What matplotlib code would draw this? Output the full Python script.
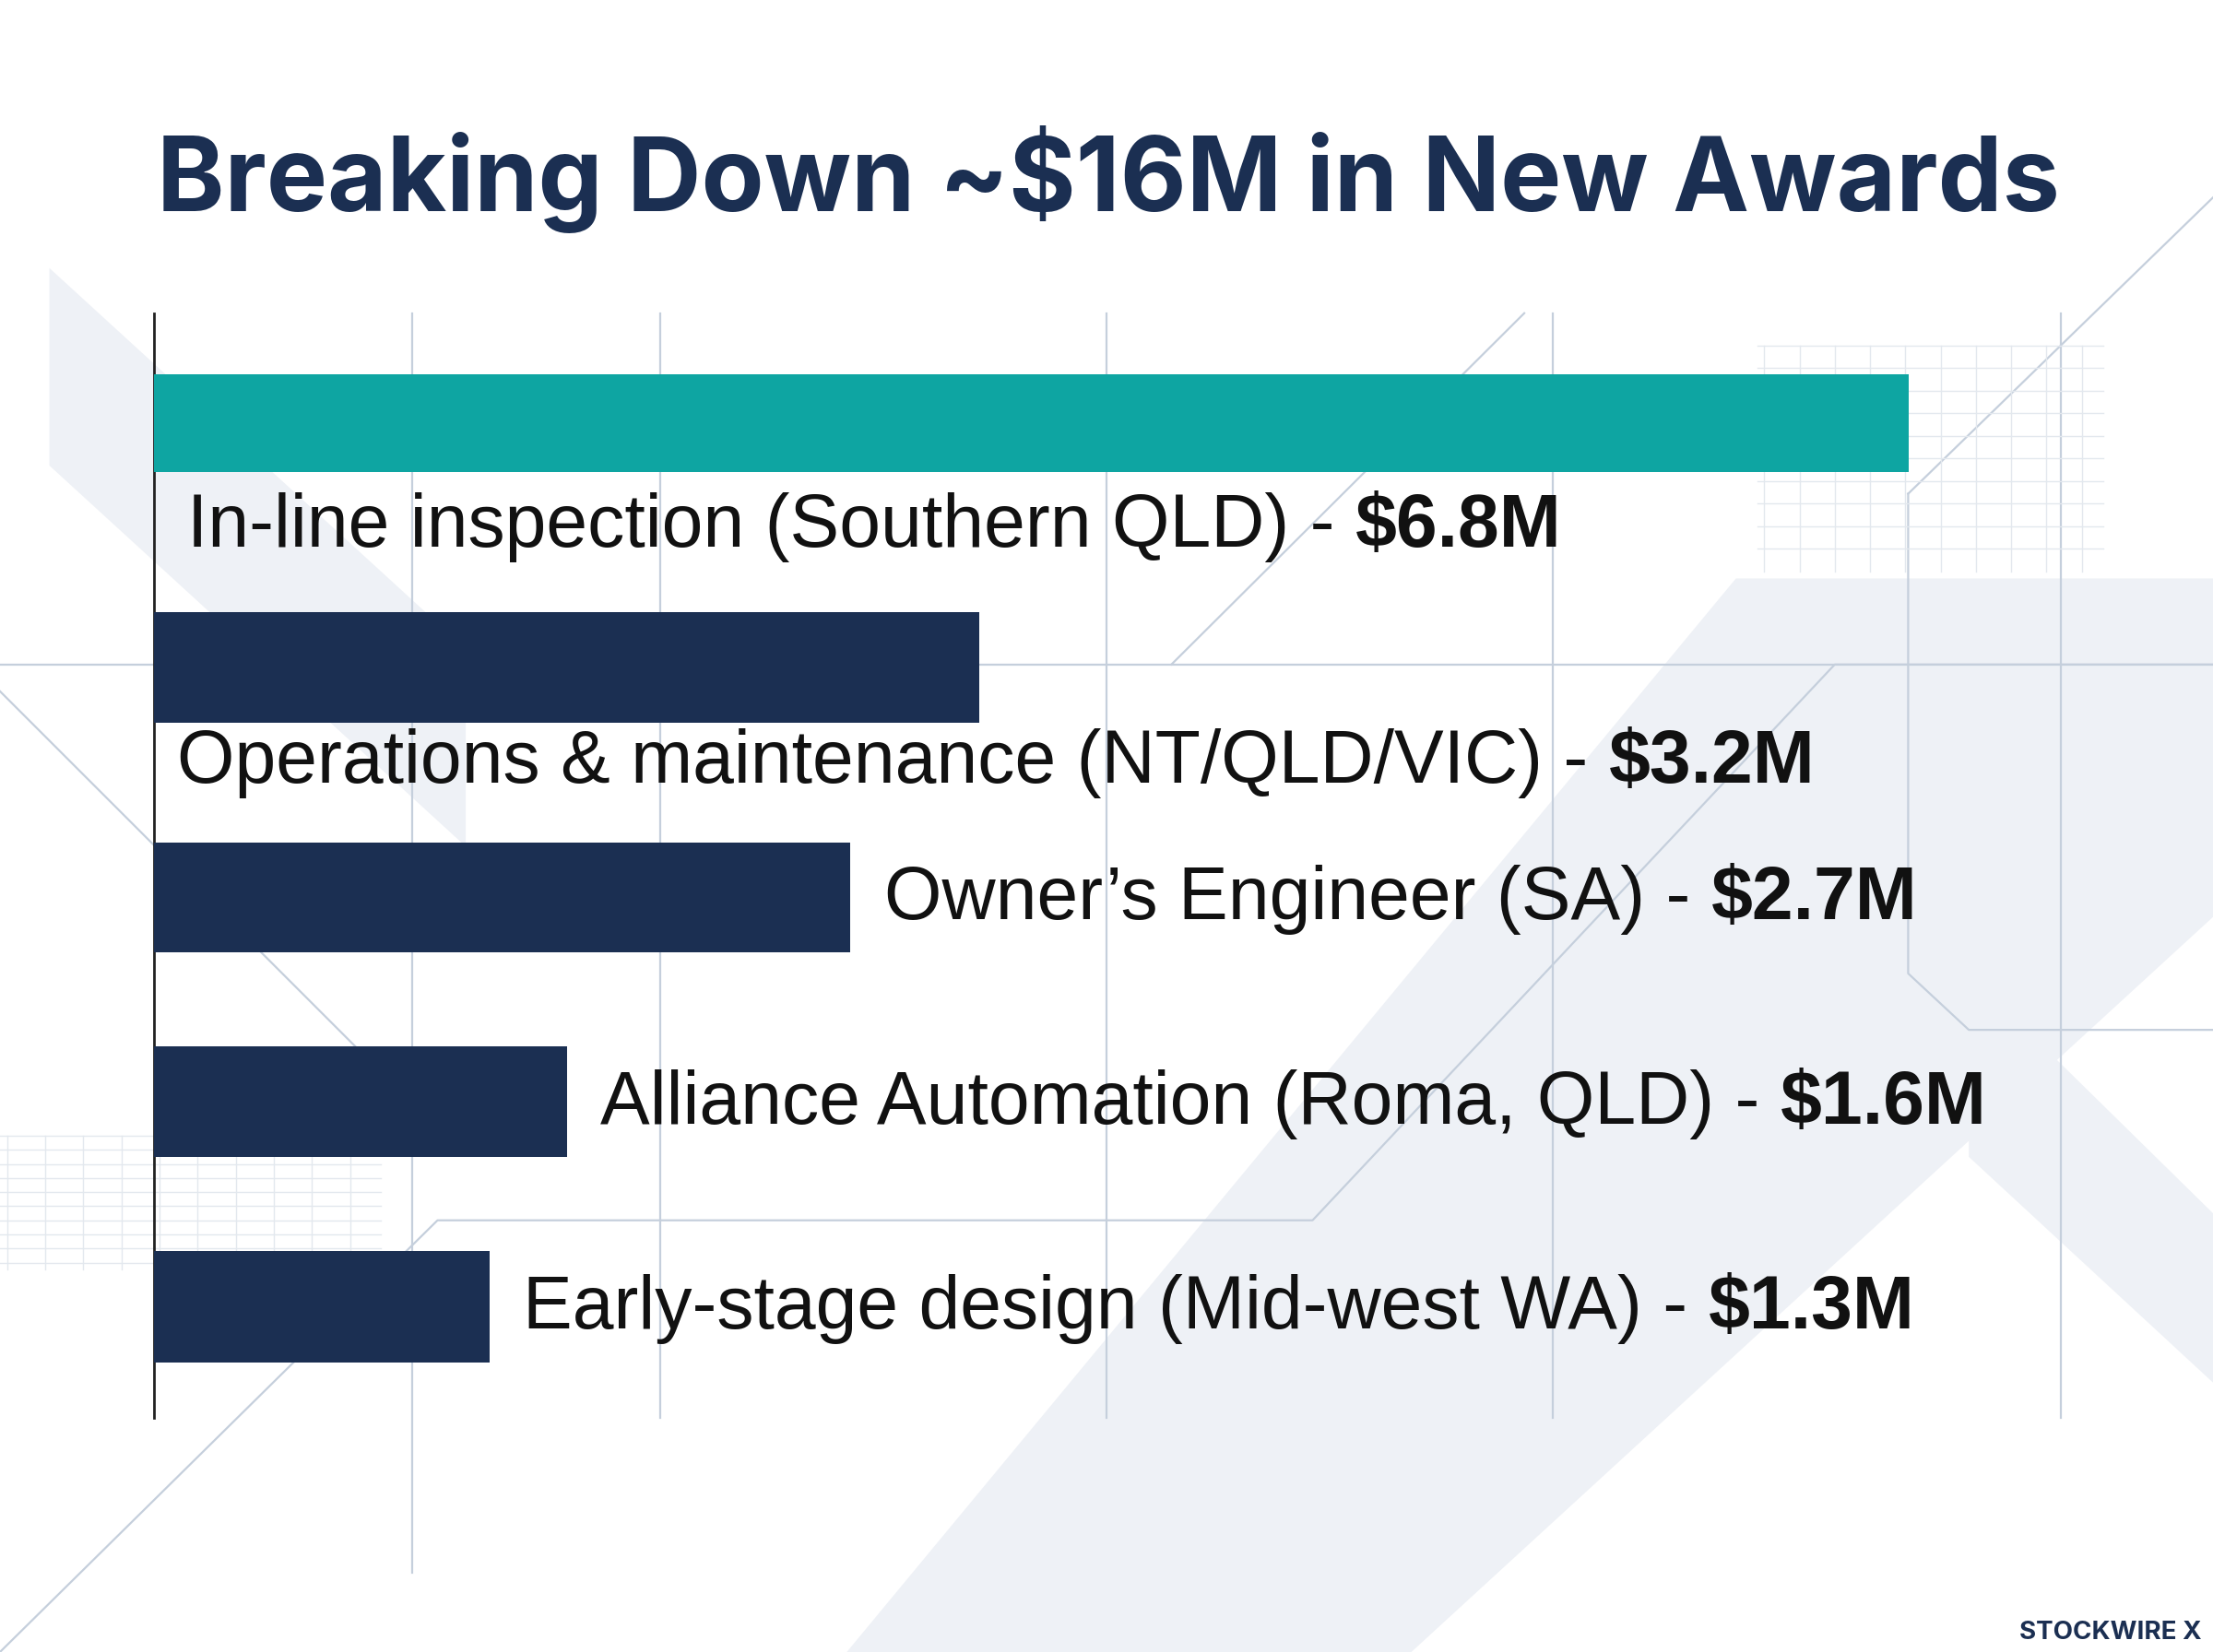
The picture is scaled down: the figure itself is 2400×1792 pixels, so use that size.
import matplotlib
matplotlib.use("Agg")
import matplotlib.pyplot as plt
from matplotlib.patches import Polygon

labels = ["In-line inspection (Southern QLD) - ", "Operations & maintenance (NT/QLD/VIC) - ",
          "Owner\u2019s Engineer (SA) - ", "Alliance Automation (Roma, QLD) - ",
          "Early-stage design (Mid-west WA) - "]
value_text = ["$6.8M", "$3.2M", "$2.7M", "$1.6M", "$1.3M"]
values = [6.8, 3.2, 2.7, 1.6, 1.3]
colors = ["#0ea5a2", "#1b2f52", "#1b2f52", "#1b2f52", "#1b2f52"]

W, H = 1568, 1171
fig = plt.figure(figsize=(12, 8.96), dpi=200)
fig.patch.set_facecolor("white")

bg = fig.add_axes([0, 0, 1, 1], zorder=0)
bg.set_xlim(0, W); bg.set_ylim(H, 0); bg.axis("off")
for poly in [[(35, 190), (35, 330), (330, 600), (330, 460)],
             [(600, 1171), (1230, 410), (1568, 410), (1568, 650), (1000, 1171)],
             [(1395, 690), (1568, 860), (1568, 980), (1395, 820)]]:
    bg.add_patch(Polygon(poly, closed=True, fc="#eef1f6", ec="none"))
lc = "#c5cfdc"
for x in [292, 468, 784, 1100, 1460]:
    bg.plot([x, x], [222, 1005 if x != 292 else 1115], color=lc, lw=0.8)
bg.plot([0, 1568], [471, 471], color=lc, lw=0.8)
bg.plot([830, 1080, 1080], [471, 222, 222], color=lc, lw=0.8)
bg.plot([1352, 1568, 1568], [350, 140, 140], color=lc, lw=0.8)
bg.plot([1352, 1352, 1395, 1568], [350, 690, 730, 730], color=lc, lw=0.8)
bg.plot([0, 310, 930, 1300, 1568], [1171, 865, 865, 471, 471], color=lc, lw=0.8)
bg.plot([0, 290], [490, 780], color=lc, lw=0.8)
for i in range(10):
    bg.plot([0, 270], [805 + i * 10, 805 + i * 10], color="#e3e8ee", lw=0.5)
    bg.plot([5 + i * 27, 5 + i * 27], [805, 900], color="#e3e8ee", lw=0.5)
    bg.plot([1245, 1490], [245 + i * 16, 245 + i * 16], color="#e3e8ee", lw=0.5)
    bg.plot([1250 + i * 25, 1250 + i * 25], [245, 405], color="#e3e8ee", lw=0.5)

ax = fig.add_axes([109 / W, 1 - 1005 / H, 1 - 109 / W, (1005 - 222) / H], zorder=2)
ax.patch.set_alpha(0)
ax.set_xlim(0, 7.98)
ax.set_ylim(1005, 222)
ypos = [300, 473, 636, 781, 926]
heights = [69, 78, 78, 78, 79]
ax.barh(ypos, values, height=heights, color=colors, zorder=3)
for s in ["top", "right", "bottom"]:
    ax.spines[s].set_visible(False)
ax.spines["left"].set_color("#222222"); ax.spines["left"].set_linewidth(1)
ax.set_xticks([]); ax.set_yticks([])

fs = 29
fam = "Liberation Sans"
for i, (lab, vt, v, y) in enumerate(zip(labels, value_text, values, ypos)):
    if i == 0:
        x0, yy = 0.13, 374
    elif i == 1:
        x0, yy = 0.09, 541
    else:
        x0, yy = v + 0.13, y + 2
    t = ax.text(x0, yy, lab, fontsize=fs, va="center", ha="left", color="#111111",
                family=fam, zorder=4)
    fig.canvas.draw()
    bb = t.get_window_extent().transformed(ax.transData.inverted())
    ax.text(bb.x1, yy, vt, fontsize=fs, va="center", ha="left", color="#111111",
            family=fam, fontweight="bold", zorder=4)

fig.text(785 / W, 1 - 127 / H, "Breaking Down ~$16M in New Awards", fontsize=40,
         fontweight="bold", color="#1b2f52", ha="center", va="center", family="Inter")
fig.text(1560 / W, 1 - 1157 / H, "STOCKWIRE X", fontsize=10, fontweight="bold",
         color="#1b2f52", ha="right", va="center", family="Inter")

fig.savefig("out.png", dpi=200, facecolor="white")
